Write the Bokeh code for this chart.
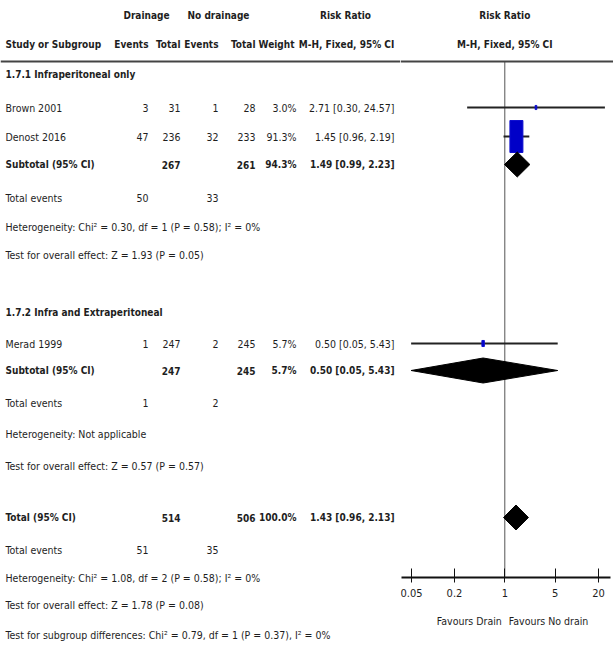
from bokeh.plotting import figure
from bokeh.models import Range1d, FixedTicker, Span, CustomJSTickFormatter
from bokeh.layouts import row
from bokeh.embed import file_html
from bokeh.resources import INLINE
from bokeh.core.properties import value

# ---------------- data ----------------
group_titles = ["1.7.1 Infraperitoneal only", "1.7.2 Infra and Extraperitoneal"]
study_names = ["Brown 2001", "Denost 2016", "Merad 1999"]
drain_events = [3, 47, 1]
drain_total = [31, 236, 247]
nodrain_events = [1, 32, 2]
nodrain_total = [28, 233, 245]
weights = [3.0, 91.3, 5.7]
rr = [2.71, 1.45, 0.50]
rr_lo = [0.30, 0.96, 0.05]
rr_hi = [24.57, 2.19, 5.43]

sub_labels = ["Subtotal (95% CI)", "Subtotal (95% CI)", "Total (95% CI)"]
sub_drain_total = [267, 247, 514]
sub_nodrain_total = [261, 245, 506]
sub_weight = [94.3, 5.7, 100.0]
sub_rr = [1.49, 0.50, 1.43]
sub_lo = [0.99, 0.05, 0.96]
sub_hi = [2.23, 5.43, 2.13]
sub_events_drain = [50, 1, 51]
sub_events_nodrain = [33, 2, 35]
heterogeneity = ["Heterogeneity: Chi\u00b2 = 0.30, df = 1 (P = 0.58); I\u00b2 = 0%",
                 "Heterogeneity: Not applicable",
                 "Heterogeneity: Chi\u00b2 = 1.08, df = 2 (P = 0.58); I\u00b2 = 0%"]
overall_effect = ["Test for overall effect: Z = 1.93 (P = 0.05)",
                  "Test for overall effect: Z = 0.57 (P = 0.57)",
                  "Test for overall effect: Z = 1.78 (P = 0.08)"]
subgroup_test = "Test for subgroup differences: Chi\u00b2 = 0.79, df = 1 (P = 0.37), I\u00b2 = 0%"
axis_ticks = [0.05, 0.2, 1, 5, 20]
favours_left = "Favours Drain"
favours_right = "Favours No drain"

# ---------------- layout (pixel positions) ----------------
FONT = "'DejaVu Sans Condensed', 'Liberation Sans Narrow', 'Arial Narrow', sans-serif"
FS = "10.5px"
FSB = "10px"
TXT = "#1e1e1e"
H = 649
title_y = [74, 312]
study_y = [107, 136, 343]
sub_y = [164, 370, 517]
events_y = [197, 402, 549]
het_y = [226, 433, 577]
eff_y = [254, 465, 604]
subgroup_y = 634
X_LABEL = 5
X_EV1, X_TOT1, X_EV2, X_TOT2, X_W, X_RR = 148, 180, 218, 255, 296, 394
HEAD1_Y, HEAD2_Y, RULE_Y, AXIS_Y = 15, 44, 61, 577
FAV_Y = 620
LEFT_W = 400
RIGHT_W = 213
ONE_PX = 504.3
PX_DEC = 72.0


def px2rr(px):
    return 10 ** ((px - ONE_PX) / PX_DEC)


def put(fig, xs, ys, texts, align="left", bold=False, size=None, dx=0):
    if size is None:
        size = FSB if bold else FS
    fig.text(x=xs, y=ys, text=texts, text_font=value(FONT), text_font_size=value(size),
             text_font_style="bold" if bold else "normal", text_align=align,
             text_baseline="middle", text_color=TXT, x_offset=dx)


left = figure(width=LEFT_W, height=H, x_range=Range1d(0, LEFT_W), y_range=Range1d(H, 0),
              output_backend="svg", toolbar_location=None, min_border=0,
              x_axis_location=None, y_axis_location=None)
left.grid.visible = False
left.outline_line_color = None
left.add_layout(Span(location=RULE_Y, dimension="width", line_color="#444444", line_width=2))

# headers
put(left, [146, 218, 345], [HEAD1_Y] * 3, ["Drainage", "No drainage", "Risk Ratio"], "center", True)
put(left, [X_LABEL], [HEAD2_Y], ["Study or Subgroup"], "left", True)
put(left, [X_EV1, X_TOT1, X_EV2, X_TOT2, X_W - 2], [HEAD2_Y] * 5,
    ["Events", "Total", "Events", "Total", "Weight"], "right", True)
put(left, [346], [HEAD2_Y], ["M-H, Fixed, 95% CI"], "center", True)

# group titles
put(left, [X_LABEL] * 2, title_y, group_titles, "left", True)

# studies
put(left, [X_LABEL] * 3, study_y, study_names)
put(left, [X_EV1] * 3, study_y, [str(v) for v in drain_events], "right")
put(left, [X_TOT1] * 3, study_y, [str(v) for v in drain_total], "right")
put(left, [X_EV2] * 3, study_y, [str(v) for v in nodrain_events], "right")
put(left, [X_TOT2] * 3, study_y, [str(v) for v in nodrain_total], "right")
put(left, [X_W] * 3, study_y, [f"{w:.1f}%" for w in weights], "right")
put(left, [X_RR] * 3, study_y, [f"{a:.2f} [{b:.2f}, {c:.2f}]" for a, b, c in zip(rr, rr_lo, rr_hi)], "right")

# subtotals
put(left, [X_LABEL] * 3, sub_y, sub_labels, "left", True)
put(left, [X_TOT1] * 3, sub_y, [str(v) for v in sub_drain_total], "right", True)
put(left, [X_TOT2] * 3, sub_y, [str(v) for v in sub_nodrain_total], "right", True)
put(left, [X_W] * 3, sub_y, [f"{w:.1f}%" for w in sub_weight], "right", True)
put(left, [X_RR] * 3, sub_y, [f"{a:.2f} [{b:.2f}, {c:.2f}]" for a, b, c in zip(sub_rr, sub_lo, sub_hi)], "right", True)

put(left, [X_LABEL] * 3, events_y, ["Total events"] * 3)
put(left, [X_EV1] * 3, events_y, [str(v) for v in sub_events_drain], "right")
put(left, [X_EV2] * 3, events_y, [str(v) for v in sub_events_nodrain], "right")
put(left, [X_LABEL] * 3, het_y, heterogeneity)
put(left, [X_LABEL] * 3, eff_y, overall_effect)
put(left, [X_LABEL], [subgroup_y], [subgroup_test])

# ---------------- forest ----------------
right = figure(width=RIGHT_W, height=H, x_axis_type="log",
               x_range=Range1d(px2rr(LEFT_W), px2rr(LEFT_W + RIGHT_W)),
               y_range=Range1d(H, 0), output_backend="svg", toolbar_location=None,
               min_border=0, y_axis_location=None)
right.grid.visible = False
right.outline_line_color = None
right.add_layout(Span(location=RULE_Y, dimension="width", line_color="#444444", line_width=2))
right.segment(x0=[1], y0=[RULE_Y], x1=[1], y1=[AXIS_Y], line_color="#555555", line_width=1)

put(right, [1], [HEAD1_Y], ["Risk Ratio"], "center", True)
put(right, [1], [HEAD2_Y], ["M-H, Fixed, 95% CI"], "center", True)

right.segment(x0=rr_lo, y0=study_y, x1=rr_hi, y1=study_y, line_color="#222222", line_width=2)
scale = [(w / max(weights)) ** 0.6 for w in weights]
right.rect(x=rr, y=study_y, width=[13 * s for s in scale], height=[32 * s for s in scale],
           width_units="screen", height_units="screen",
           fill_color="#0000c8", line_color="#1010d0", line_width=1)

HD = 12.5
right.patches(xs=[[lo, m, hi, m] for lo, m, hi in zip(sub_lo, sub_rr, sub_hi)],
              ys=[[y, y - HD, y, y + HD] for y in sub_y],
              fill_color="black", line_color="black", line_width=1)

ax = right.xaxis[0]
ax.fixed_location = AXIS_Y
ax.bounds = (px2rr(401), px2rr(610))
ax.ticker = FixedTicker(ticks=axis_ticks)
ax.formatter = CustomJSTickFormatter(code="return tick.toString();")
ax.axis_line_width = 2
ax.axis_line_color = "#111111"
ax.major_tick_line_color = "#111111"
ax.major_tick_line_width = 1
ax.major_tick_in = 9
ax.major_tick_out = 5
ax.minor_tick_line_color = None
ax.major_label_text_font = FONT
ax.major_label_text_font_size = "11px"
ax.major_label_text_color = TXT
ax.major_label_standoff = 6

put(right, [1], [FAV_Y], [favours_left], "right", size="10.5px", dx=-3)
put(right, [1], [FAV_Y], [favours_right], "left", size="10.5px", dx=4)

layout = row(left, right, spacing=0)
open("out.html", "w").write(file_html(layout, INLINE))
